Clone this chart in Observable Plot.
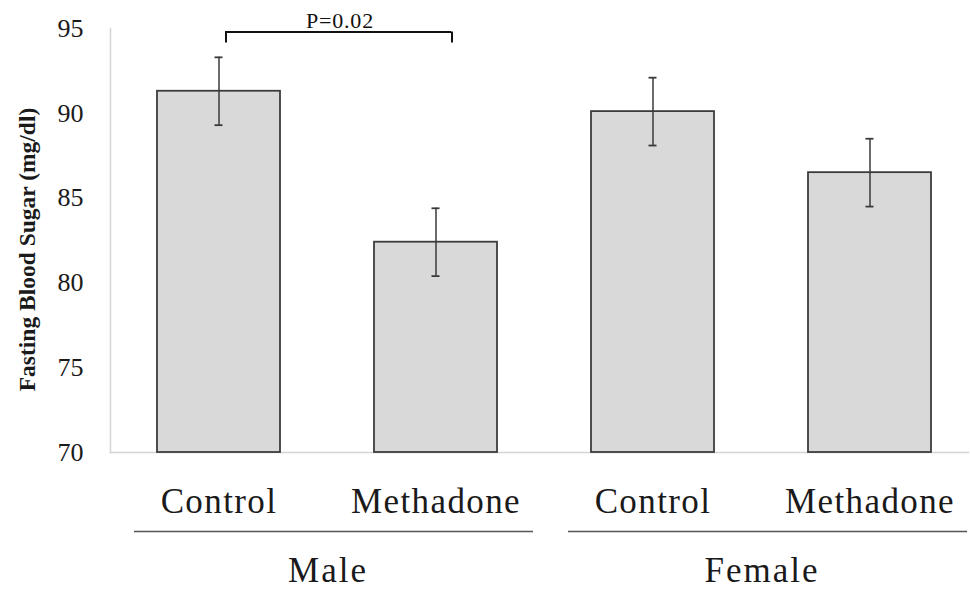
<!DOCTYPE html>
<html>
<head>
<meta charset="utf-8">
<script src="https://cdn.jsdelivr.net/npm/d3@7"></script>
<script src="https://cdn.jsdelivr.net/npm/@observablehq/plot@0.6"></script>
<style>
  body { margin: 0; background: #fff; }
  #chart svg { display: block; }
  #chart svg text { font-family: 'Liberation Serif', 'Times New Roman', serif; }
</style>
</head>
<body>
<div id="chart"></div>
<script>
// ---- data ----
const groups = ["Male", "Male", "Female", "Female"];
const treatments = ["Control", "Methadone", "Control", "Methadone"];
const means = [91.3, 82.4, 90.1, 86.5];
const errors = [2.0, 2.0, 2.0, 2.0];
const yTicks = [70, 75, 80, 85, 90, 95];
const groupNames = ["Male", "Female"];
const yTitle = "Fasting Blood Sugar (mg/dl)";
const comparison = {from: "Male|Control", to: "Male|Methadone", y: 94.8, tick: 94.15, label: "P=0.02"};

// ---- tables built from the arrays ----
const rows = means.map((m, i) => ({
  key: groups[i] + "|" + treatments[i],
  group: groups[i],
  treatment: treatments[i],
  mean: m,
  lo: m - errors[i],
  hi: m + errors[i]
}));
const keys = rows.map(d => d.key);
const groupRows = groupNames.map(g => {
  const k = keys.filter(key => key.startsWith(g + "|"));
  return {group: g, first: k[0], last: k[k.length - 1]};
});

const serif = "'Liberation Serif', 'Times New Roman', serif";

const chart = Plot.plot({
  width: 970,
  height: 589,
  marginLeft: 110,
  marginRight: 2,
  marginTop: 28,
  marginBottom: 137,
  style: {fontFamily: serif, background: "#fff", color: "#1a1a1a"},
  x: {type: "band", domain: keys, range: [110, 978], paddingInner: 0.434, paddingOuter: 0.216},
  y: {domain: [70, 95]},
  marks: [
    Plot.frame({anchor: "left", stroke: "#d4d4d4", strokeWidth: 1.5}),
    Plot.frame({anchor: "bottom", stroke: "#d4d4d4", strokeWidth: 1.5}),
    Plot.axisY({ticks: yTicks, tickSize: 0, tickPadding: 27, fontSize: 26, fontFamily: serif, label: null}),
    Plot.axisX({tickSize: 0, tickPadding: 36, fontSize: 35, fontFamily: serif, label: null, tickFormat: k => k.split("|")[1]}),
    Plot.barY(rows, {x: "key", y1: 70, y2: "mean", fill: "#d9d9d9", stroke: "#3c3c3c", strokeWidth: 1.8}),
    Plot.ruleX(rows, {x: "key", y1: "lo", y2: "hi", stroke: "#3a3a3a", strokeWidth: 1.5}),
    Plot.tickY(rows, {x: "key", y: "lo", insetLeft: 57.5, insetRight: 57.5, stroke: "#3a3a3a", strokeWidth: 1.8}),
    Plot.tickY(rows, {x: "key", y: "hi", insetLeft: 57.5, insetRight: 57.5, stroke: "#3a3a3a", strokeWidth: 1.8}),
    // significance bracket
    Plot.ruleY([comparison], {x1: "from", x2: "to", y: "y", insetLeft: 68, insetRight: 46, stroke: "#111", strokeWidth: 2}),
    Plot.ruleX([comparison], {x: "from", y1: "tick", y2: "y", dx: 7, stroke: "#111", strokeWidth: 2}),
    Plot.ruleX([comparison], {x: "to", y1: "tick", y2: "y", dx: 16, stroke: "#111", strokeWidth: 2}),
    Plot.text([comparison], {x: "from", y: "y", text: "label", dx: 121, dy: -11, fontSize: 22, fontFamily: serif, fill: "#111", className: "plabel"}),
    // group lines and labels
    Plot.ruleY(groupRows, {x1: "first", x2: "last", y: 70, dy: 79, insetLeft: -23, insetRight: -36, stroke: "#555", strokeWidth: 1.6}),
    Plot.text(groupRows, {x: "first", y: 70, text: "group", dx: 109, dy: 118, fontSize: 35, fontFamily: serif, fill: "#1a1a1a", className: "glabel"}),
    // y axis title
    Plot.text([yTitle], {text: d => d, frameAnchor: "left", rotate: -90, dx: -83, dy: 9, fontSize: 23.5, fontWeight: "bold", fontFamily: serif, textAnchor: "middle", fill: "#1a1a1a"})
  ]
});

// widen the horizontal labels slightly, as in the reference
const svg = d3.select(chart);
svg.selectAll('[aria-label="x-axis tick label"] text').style("letter-spacing", "1.4px");
svg.selectAll(".glabel text, text.glabel").style("letter-spacing", "2px");
svg.selectAll(".plabel text, text.plabel").style("letter-spacing", "0.8px");

document.getElementById("chart").append(chart);
</script>
</body>
</html>
